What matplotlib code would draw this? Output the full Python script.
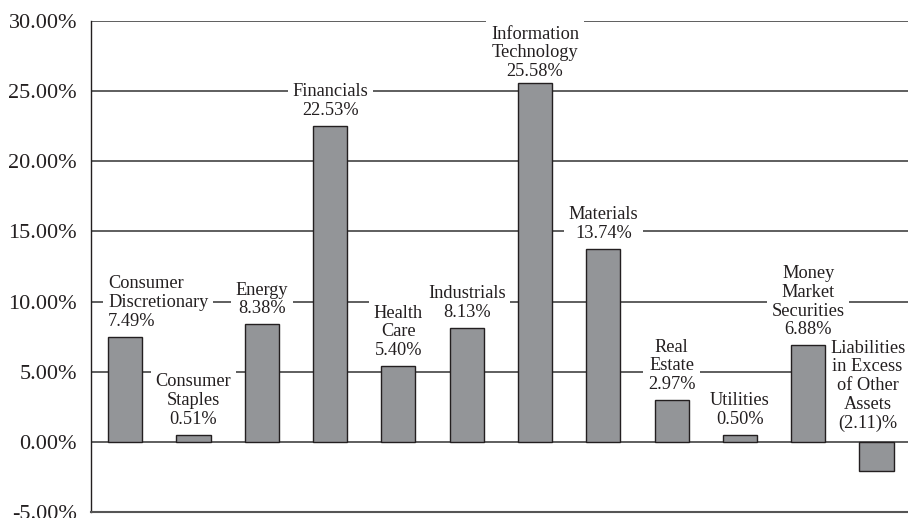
import matplotlib
matplotlib.use("Agg")
import matplotlib.pyplot as plt

categories = ["Consumer\nDiscretionary", "Consumer\nStaples", "Energy", "Financials",
              "Health\nCare", "Industrials", "Information\nTechnology", "Materials",
              "Real\nEstate", "Utilities", "Money\nMarket\nSecurities",
              "Liabilities\nin Excess\nof Other\nAssets"]
values = [7.49, 0.51, 8.38, 22.53, 5.40, 8.13, 25.58, 13.74, 2.97, 0.50, 6.88, -2.11]
value_labels = ["7.49%", "0.51%", "8.38%", "22.53%", "5.40%", "8.13%", "25.58%",
                "13.74%", "2.97%", "0.50%", "6.88%", "(2.11)%"]
yticks = [-5, 0, 5, 10, 15, 20, 25, 30]
ytick_labels = ["-5.00%", "0.00%", "5.00%", "10.00%", "15.00%", "20.00%", "25.00%", "30.00%"]

plt.rcParams['font.family'] = ['Liberation Serif', 'DejaVu Serif']
txt = '#231f20'

fig = plt.figure(figsize=(9.08, 5.18), dpi=100)
ax = fig.add_axes([91/908, 6/518, 1 - 91/908, (512-21)/518])
ax.set_xlim(-0.5, 11.46)
ax.set_ylim(-5, 30)

for y in [0, 5, 10, 15, 20, 25, 30]:
    ax.axhline(y, color='#333333', lw=1.1, zorder=1)

x = list(range(len(values)))
ax.bar(x, values, width=0.5, color='#939598', edgecolor=txt, linewidth=1.0, zorder=3)

for i, (c, v, vl) in enumerate(zip(categories, values, value_labels)):
    top = max(v, 0)
    ha = 'center'
    xi = i
    dx = 0
    dy = 5
    if i == 0:
        xi = i - 0.25
        ha = 'left'
    if i == 6:
        dy = 2
    if i == 11:
        dx = -6.5
        dy = 7
    ax.annotate(c + "\n" + vl, xy=(xi, top), xytext=(dx, dy), textcoords='offset points',
                ha=ha, va='bottom', multialignment=('left' if i == 0 else 'center'),
                fontsize=13.2, color=txt, linespacing=1.14, zorder=2,
                bbox=dict(boxstyle='square,pad=0.25', fc='white', ec='none'))

ax.set_yticks(yticks)
ax.set_yticklabels(ytick_labels, fontsize=16, color=txt)
ax.set_xticks([])
ax.tick_params(axis='y', length=0, pad=10)
for s in ['top', 'right']:
    ax.spines[s].set_visible(False)
ax.spines['left'].set_color(txt)
ax.spines['left'].set_linewidth(1.0)
ax.spines['bottom'].set_color('#555555')
ax.spines['bottom'].set_linewidth(1.5)

fig.savefig('out.png', dpi=100)
